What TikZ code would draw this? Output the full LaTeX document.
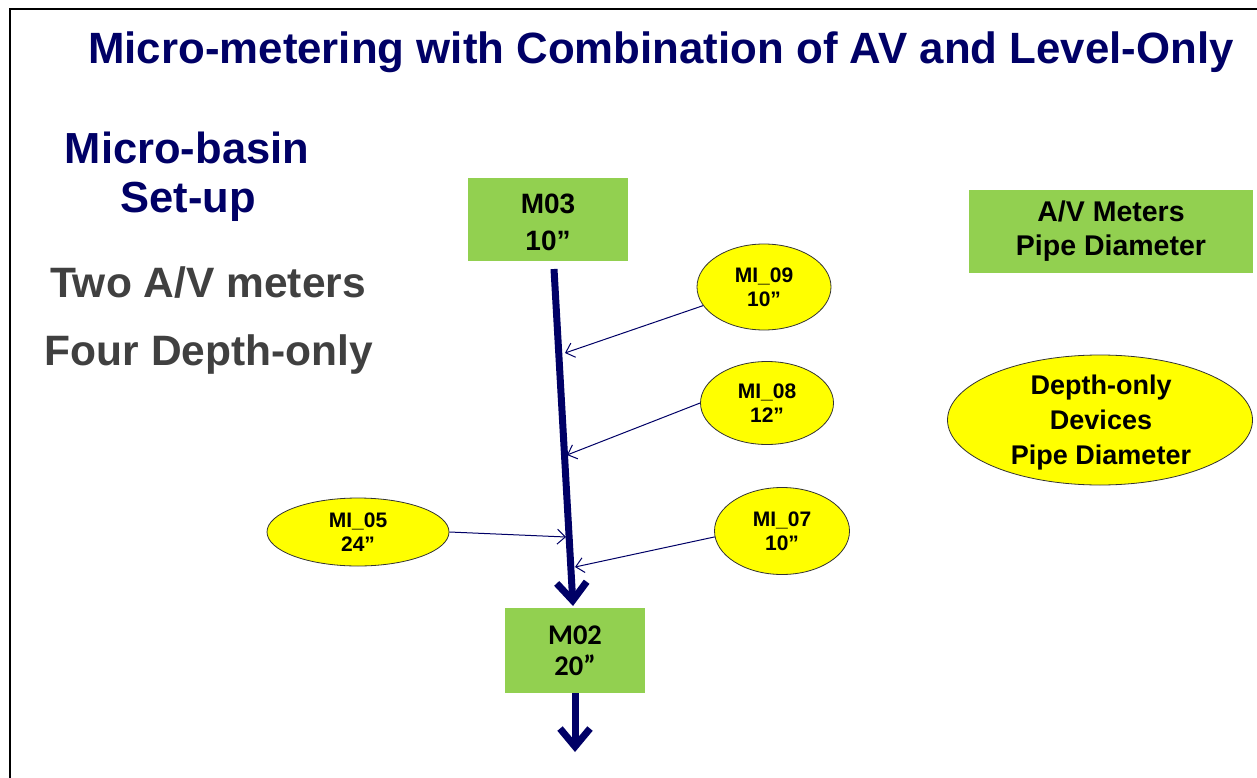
\documentclass[tikz,border=0pt]{standalone}
\usepackage{fontspec}
\setmainfont{Liberation Sans}
\newfontfamily\calib{Carlito}
\usetikzlibrary{shapes.geometric,arrows.meta}
\definecolor{navy}{RGB}{0,0,102}
\definecolor{darkgray}{RGB}{64,64,64}
\definecolor{mgreen}{RGB}{146,208,80}
\definecolor{myellow}{RGB}{255,255,0}
\tikzset{
  x=1pt,y=-1pt,
  titletext/.style={text=navy,font=\bfseries\fontsize{43.8}{48}\selectfont,inner sep=0pt},
  navytext/.style={text=navy,font=\bfseries\fontsize{43.5}{48}\selectfont,inner sep=0pt},
  graytext/.style={text=darkgray,font=\bfseries\fontsize{42.5}{46}\selectfont,inner sep=0pt},
  meterbox/.style={rectangle,fill=mgreen,draw=none,align=center,inner sep=0pt},
  devell/.style={ellipse,fill=myellow,draw=black!80,line width=0.8pt,inner sep=0pt,align=center,
    font=\bfseries\fontsize{21}{24}\selectfont},
  mainflow/.style={draw=navy,line width=7pt,-{Straight Barb[length=18pt,width=30pt]}},
  inflow/.style={draw=navy,line width=1pt,-{Straight Barb[length=8pt,width=15pt]}},
}
\begin{document}
\begin{tikzpicture}
\useasboundingbox (0,0) rectangle (1257,778);
\fill[white] (0,0) rectangle (1257,778);
% frame
\draw[line width=2.5pt,black] (1257,9) -- (10,9) -- (10,778);
% title
\node[titletext] (title) at (661,52) {Micro-metering with Combination of AV and Level-Only};
% left texts
\node[navytext] (mb) at (187,148) {Micro-basin};
\node[navytext] (su) at (188,202) {Set-up};
\node[graytext] (two) at (208,283) {Two A/V meters};
\node[graytext] (four) at (209,355) {Four Depth-only};
% meter boxes
\node[meterbox,minimum width=160pt,minimum height=83pt] (m03) at (548,219.5) {};
\node[align=center,inner sep=0pt,font=\bfseries\fontsize{28}{37}\selectfont] (m03txt) at (548,222) {M03\\10”};
\node[meterbox,minimum width=140pt,minimum height=85pt,font=\calib\bfseries\fontsize{28.5}{31}\selectfont] (m02) at (575,650.5) {M02\\20”};
\node[meterbox,minimum width=284pt,minimum height=83pt,font=\bfseries\fontsize{28.5}{34}\selectfont] (av) at (1111,231.5) {A/V Meters\\Pipe Diameter};
% device ellipses
\node[devell,minimum width=134pt,minimum height=86pt] (e9) at (764,287) {MI\_09\\10”};
\node[devell,minimum width=133pt,minimum height=83pt] (e8) at (767,403) {MI\_08\\12”};
\node[devell,minimum width=135pt,minimum height=87pt] (e7) at (782,531) {MI\_07\\10”};
\node[devell,minimum width=182pt,minimum height=68pt] (e5) at (358,532) {MI\_05\\24”};
\node[ellipse,fill=myellow,draw=black!80,line width=0.8pt,minimum width=305pt,minimum height=130pt] (dev) at (1100,420) {};
\node[align=center,inner sep=0pt,font=\bfseries\fontsize{27}{35}\selectfont] (devtxt) at (1101,423) {Depth-only\\Devices\\Pipe Diameter};
% main flow
\coordinate (ltop) at (554,269);
\coordinate (lend) at (573,606);
\coordinate (out) at (575,752);
\draw[mainflow] (ltop) -- (lend);
\draw[mainflow] (m02.south) -- (out);
% inflows
\coordinate (p9) at (565,353);
\coordinate (p8) at (567,455);
\coordinate (p5) at (566,537);
\coordinate (p7) at (575,567);
\draw[inflow] (e9.197) -- (p9);
\draw[inflow] (e8.west) -- (p8);
\draw[inflow] (e5.east) -- (p5);
\draw[inflow] (e7.185) -- (p7);
\end{tikzpicture}
\end{document}
